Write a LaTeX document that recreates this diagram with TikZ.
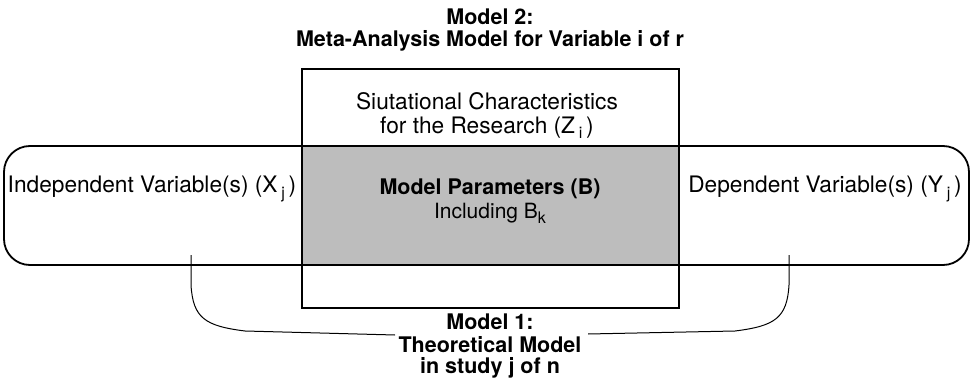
\documentclass[tikz,border=0pt]{standalone}
\usepackage{fontspec}
\setmainfont{TeX Gyre Heros}
\newcommand{\lowsub}[1]{\raisebox{-0.45ex}{\fontsize{16}{16}\selectfont #1}}
\begin{document}
\begin{tikzpicture}[x=1pt,y=-1pt,
  plain/.style={font=\fontsize{22.7}{26}\selectfont, align=center, inner sep=0pt},
  titletext/.style={font=\bfseries\fontsize{21.5}{24}\selectfont, align=center, inner sep=0pt},
  boxline/.style={draw=black, line width=1.8pt},
  bracketline/.style={draw=black, line width=1pt}]
\useasboundingbox (0,0) rectangle (973,382);
% shaded middle
\fill[black!26] (302,146) rectangle (679,265);
% rounded outer box
\draw[boxline, rounded corners=26pt] (4,146) rectangle (969,265);
% tall box
\draw[boxline] (302,69) rectangle (679,308);
% titles
\node[titletext] (m2a) at (490,17) {Model 2:};
\node[titletext] (m2b) at (490,41) {Meta-Analysis Model for Variable i of r};
\node[plain] (sit1) at (487,101) {Siutational Characteristics};
\node[plain] (sit2) at (487,128) {for the Research (Z\,\lowsub{i}\,)};
\node[plain] (iv) at (152,189) {Independent Variable(s) (X\,\lowsub{j}\,)};
\node[plain] (dv) at (825,189) {Dependent Variable(s) (Y\,\lowsub{j}\,)};
\node[plain, font=\bfseries\fontsize{21.5}{24}\selectfont] (mp) at (490,189) {Model Parameters (B)};
\node[plain, font=\fontsize{21}{24}\selectfont] (inc) at (490,213) {Including B\lowsub{k}};
\node[titletext] (m1a) at (490,322) {Model 1:};
\node[titletext] (m1b) at (490,345) {Theoretical Model};
\node[titletext] (m1c) at (490,368) {in study j of n};
% bracket
\coordinate (lt) at (191,255);
\coordinate (rt) at (789,255);
\coordinate (le) at (395,335);
\coordinate (re) at (588,334);
\draw[bracketline] (lt) -- (191,285) .. controls (193,318) and (205,326) .. (245,331) -- (le);
\draw[bracketline] (rt) -- (789,285) .. controls (787,318) and (775,326) .. (735,331) -- (re);
\end{tikzpicture}
\end{document}
